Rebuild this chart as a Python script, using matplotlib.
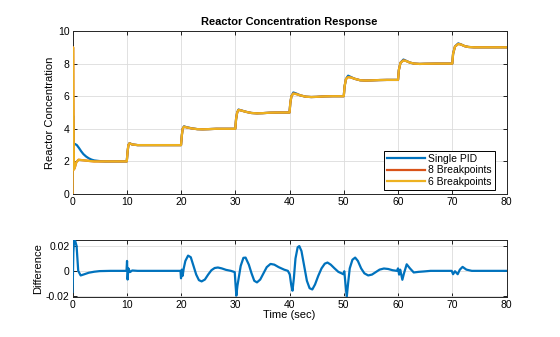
import matplotlib
matplotlib.use("Agg")
import matplotlib.pyplot as plt

plt.rcParams["font.family"] = ["Liberation Sans", "DejaVu Sans"]

# Single PID response (time, concentration)
pid_t = [0, 0.1, 0.2, 0.45, 0.8, 1.2, 1.6, 2.0, 2.5, 3.0, 3.5, 4.0, 5.0, 6.0, 10.0,
         10.15, 10.3, 10.5, 11.0, 12.0, 20.0,
         20.15, 20.3, 20.55, 21.0, 22.0, 23.0, 24.0, 25.0, 26.5, 30.0,
         30.15, 30.35, 30.6, 31.0, 32.0, 33.0, 34.0, 35.0, 36.5, 38.0, 40.0,
         40.15, 40.35, 40.7, 41.2, 42.0, 43.0, 44.0, 45.0, 46.5, 48.0, 50.0,
         50.15, 50.4, 50.8, 51.3, 52.0, 53.0, 54.0, 55.0, 56.5, 58.0, 60.0,
         60.15, 60.45, 61.0, 61.5, 62.2, 63.0, 64.0, 65.0, 67.0, 70.0,
         70.15, 70.5, 71.1, 71.6, 72.3, 73.0, 74.0, 80.0]
pid_y = [0, 4.8, 3.05, 3.07, 3.0, 2.82, 2.62, 2.45, 2.3, 2.19, 2.11, 2.06, 2.02, 2.0, 2.0,
         2.6, 3.0, 3.12, 3.04, 3.0, 3.0,
         3.6, 4.0, 4.15, 4.1, 4.03, 3.98, 3.97, 3.98, 4.0, 4.0,
         4.6, 5.0, 5.18, 5.14, 5.04, 4.97, 4.95, 4.96, 4.99, 5.0, 5.0,
         5.6, 6.0, 6.23, 6.17, 6.05, 5.97, 5.95, 5.96, 5.99, 6.0, 6.0,
         6.6, 7.05, 7.26, 7.18, 7.07, 6.98, 6.96, 6.97, 6.99, 7.0, 7.0,
         7.6, 8.05, 8.25, 8.17, 8.06, 8.0, 7.98, 7.99, 8.0, 8.0,
         8.6, 9.05, 9.24, 9.18, 9.07, 9.02, 9.0, 9.0]

# Gain-scheduled responses (8 and 6 breakpoints)
gs_t = [0, 0.1, 0.25, 0.4, 0.7, 1.1, 2.0, 3.0, 4.0, 10.0,
        10.15, 10.3, 10.5, 11.0, 12.0, 20.0,
        20.15, 20.3, 20.55, 21.0, 22.0, 23.0, 24.0, 25.0, 26.5, 30.0,
        30.15, 30.35, 30.6, 31.0, 32.0, 33.0, 34.0, 35.0, 36.5, 38.0, 40.0,
        40.15, 40.35, 40.7, 41.2, 42.0, 43.0, 44.0, 45.0, 46.5, 48.0, 50.0,
        50.15, 50.4, 50.8, 51.3, 52.0, 53.0, 54.0, 55.0, 56.5, 58.0, 60.0,
        60.15, 60.45, 61.0, 61.5, 62.2, 63.0, 64.0, 65.0, 67.0, 70.0,
        70.15, 70.5, 71.1, 71.6, 72.3, 73.0, 74.0, 80.0]
bp8_y = [0, 9.0, 1.5, 1.6, 1.95, 2.1, 2.07, 2.03, 2.0, 2.0,
         2.6, 3.0, 3.11, 3.04, 3.0, 3.0,
         3.6, 4.0, 4.13, 4.09, 4.02, 3.98, 3.97, 3.98, 4.0, 4.0,
         4.6, 5.0, 5.16, 5.13, 5.04, 4.97, 4.95, 4.96, 4.99, 5.0, 5.0,
         5.6, 6.0, 6.17, 6.14, 6.05, 5.97, 5.95, 5.96, 5.99, 6.0, 6.0,
         6.6, 7.05, 7.18, 7.15, 7.07, 6.98, 6.96, 6.97, 6.99, 7.0, 7.0,
         7.6, 8.05, 8.2, 8.16, 8.06, 8.0, 7.98, 7.99, 8.0, 8.0,
         8.6, 9.05, 9.21, 9.17, 9.07, 9.02, 9.0, 9.0]
bp6_y = [0, 9.0, 1.5, 1.6, 1.95, 2.1, 2.07, 2.03, 2.0, 2.0,
         2.6, 3.0, 3.11, 3.04, 3.0, 3.0,
         3.6, 4.0, 4.13, 4.09, 4.02, 3.98, 3.97, 3.98, 4.0, 4.0,
         4.6, 5.0, 5.16, 5.13, 5.04, 4.97, 4.95, 4.96, 4.99, 5.0, 5.0,
         5.6, 6.0, 6.16, 6.13, 6.05, 5.97, 5.95, 5.96, 5.99, 6.0, 6.0,
         6.6, 7.05, 7.17, 7.15, 7.07, 6.98, 6.96, 6.97, 6.99, 7.0, 7.0,
         7.6, 8.05, 8.19, 8.16, 8.06, 8.0, 7.98, 7.99, 8.0, 8.0,
         8.6, 9.05, 9.2, 9.17, 9.07, 9.02, 9.0, 9.0]

# Difference between responses
diff_t = [0, 0.05, 0.15, 0.3, 0.5, 0.75, 0.9, 1.05, 1.5, 2.0, 3.0, 4.0, 5.0, 7.0,
          9.95, 10.05, 10.15, 10.3, 10.6, 11.0, 12.0,
          19.9, 20.0, 20.15, 20.3, 20.5, 20.8, 21.3, 21.8, 22.3, 22.8, 23.3, 23.8, 24.4,
          25.0, 25.6, 26.2, 26.8, 27.5, 28.3, 29.2,
          29.9, 30.05, 30.2, 30.4, 30.7, 31.0, 31.5, 31.9, 32.5, 33.0, 33.5, 34.0, 34.6,
          35.2, 35.8, 36.5, 37.2, 38.0, 39.0, 39.7,
          40.05, 40.3, 40.55, 40.8, 41.1, 41.5, 41.8, 42.2, 42.7, 43.2, 43.7, 44.2, 44.7,
          45.3, 45.9, 46.5, 47.0, 47.6, 48.3, 49.0, 49.6, 49.9,
          50.1, 50.3, 50.55, 50.8, 51.1, 51.6, 52.1, 52.6, 53.2, 53.8, 54.5, 55.2, 55.9,
          56.6, 57.4, 58.2, 59.0, 59.8,
          60.0, 60.2, 60.4, 60.8, 61.1, 61.6, 62.2, 62.9, 63.8, 64.7, 66.0,
          69.9, 70.15, 70.5, 71.0, 71.4, 71.9, 72.6, 73.6, 80.0]
diff_y = [-0.017, -0.01, 0.015, 0.025, 0.024, 0.02, 0.01, 0.0, -0.0037, -0.003, -0.0015, -0.0007, -0.0002, 0,
          0, 0.008, -0.007, 0.002, -0.001, 0.0003, 0,
          0, -0.006, 0.001, -0.004, 0.002, 0.008, 0.0123, 0.011, 0.004, -0.003, -0.0075, -0.0085, -0.007,
          -0.003, 0.0005, 0.0023, 0.0027, 0.002, 0.0008, 0.0,
          -0.001, -0.011, -0.02, -0.012, -0.004, 0.004, 0.0105, 0.0107, 0.005, -0.002, -0.008, -0.0093, -0.007,
          -0.002, 0.003, 0.0056, 0.005, 0.003, 0.001, 0.0,
          -0.003, -0.011, -0.016, -0.006, 0.01, 0.019, 0.02, 0.016, 0.004, -0.008, -0.014, -0.015, -0.011,
          -0.004, 0.002, 0.0058, 0.0067, 0.005, 0.002, -0.0008, -0.002, -0.0027,
          -0.0003, -0.01, -0.021, -0.01, 0.002, 0.009, 0.0107, 0.008, 0.002, -0.002, -0.0037, -0.003, -0.001,
          0.001, 0.0019, 0.0015, 0.0005, 0,
          0.002, -0.003, 0.001, -0.0072, -0.002, 0.0053, 0.002, -0.0013, -0.0008, -0.0005, 0,
          0, -0.0027, -0.0003, -0.0027, 0.001, 0.0032, 0.001, 0, 0]

BLUE = "#0072BD"
ORANGE = "#D95319"
YELLOW = "#EDB120"


def style_axes(ax):
    ax.grid(True, color="#dcdcdc", linewidth=0.6)
    ax.set_axisbelow(True)
    ax.tick_params(direction="in", length=3, width=0.6, labelsize=7.5,
                   top=True, right=True, pad=2)
    for s in ax.spines.values():
        s.set_linewidth(0.7)
        s.set_color("#262626")
        s.set_zorder(1.5)


fig = plt.figure(figsize=(5.6, 3.37), dpi=100)
ax1 = fig.add_axes([0.1295, 0.4243, 0.775, 0.4837])
ax2 = fig.add_axes([0.1295, 0.1190, 0.775, 0.1674])

ax1.plot(pid_t, pid_y, color=BLUE, lw=1.6, label="Single PID")
ax1.plot(gs_t, bp8_y, color=ORANGE, lw=1.6, label="8 Breakpoints")
ax1.plot(gs_t, bp6_y, color=YELLOW, lw=1.6, label="6 Breakpoints")
ax1.set_xlim(0, 80)
ax1.set_ylim(0, 10)
ax1.set_xticks(range(0, 81, 10))
ax1.set_yticks(range(0, 11, 2))
ax1.set_ylabel("Reactor Concentration", fontsize=8, labelpad=2)
ax1.set_title("Reactor Concentration Response", fontsize=8, fontweight="bold", pad=4)
style_axes(ax1)
leg = ax1.legend(loc="lower right", bbox_to_anchor=(0.973, 0.0245), fontsize=7.5,
                 fancybox=False, framealpha=1, edgecolor="black", borderaxespad=0,
                 handlelength=3.6, handletextpad=0.3, borderpad=0.3, labelspacing=0.15)
leg.get_frame().set_linewidth(0.7)

ax2.plot(diff_t, diff_y, color=BLUE, lw=1.6)
ax2.set_xlim(0, 80)
ax2.set_ylim(-0.021, 0.0245)
ax2.set_xticks(range(0, 81, 10))
ax2.set_yticks([-0.02, 0, 0.02])
ax2.set_yticklabels(["-0.02", "0", "0.02"])
ax2.set_ylabel("Difference", fontsize=8, labelpad=2)
ax2.set_xlabel("Time (sec)", fontsize=8, labelpad=0)
style_axes(ax2)

fig.savefig("out.png", dpi=100)
